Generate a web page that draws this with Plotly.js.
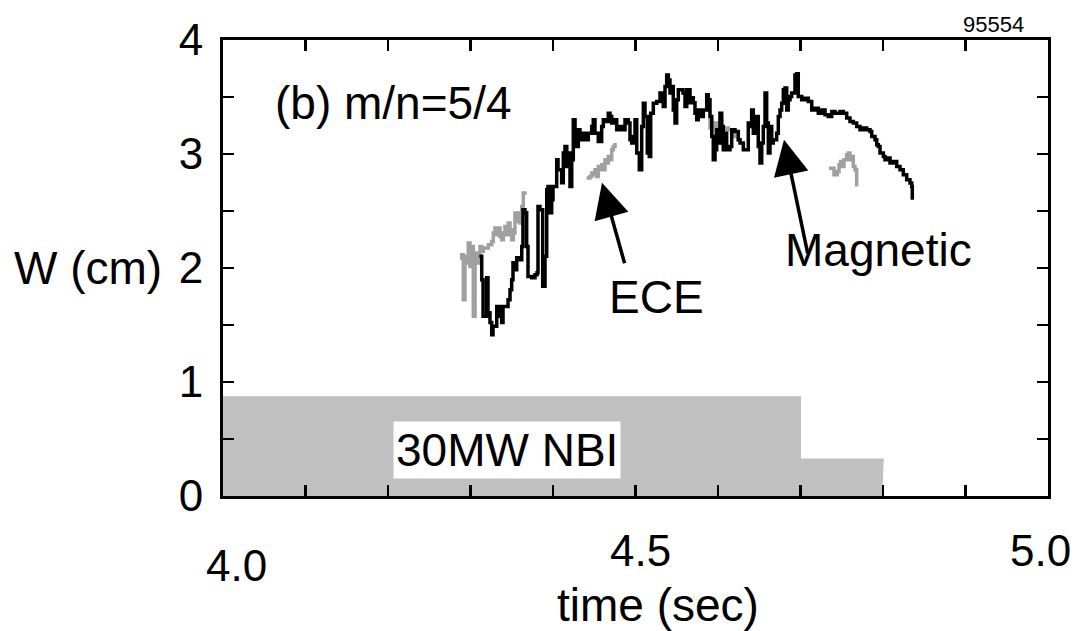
<!DOCTYPE html>
<html>
<head>
<meta charset="utf-8">
<script src="https://cdn.plot.ly/plotly-3.0.1.min.js"></script>
<style>html,body{margin:0;padding:0;background:#fff;}#chart{width:1088px;height:631px;}</style>
</head>
<body>
<div id="chart"></div>
<script>
// Magnetic (black) island width, cm
const magTime = [4.3107,4.3136,4.3152,4.3196,4.3212,4.3236,4.3257,4.3273,4.3318,4.3333,4.3358,4.3378,4.3394,4.3455,4.3479,4.3499,4.3515,4.3539,4.3560,4.3600,4.3621,4.3636,4.3661,4.3681,4.3697,4.3742,4.3782,4.3806,4.3818,4.3842,4.3875,4.3903,4.3924,4.3939,4.3964,4.3984,4.4000,4.4045,4.4061,4.4105,4.4125,4.4145,4.4167,4.4185,4.4206,4.4227,4.4246,4.4267,4.4288,4.4307,4.4327,4.4348,4.4388,4.4428,4.4469,4.4488,4.4509,4.4549,4.4590,4.4610,4.4630,4.4670,4.4691,4.4712,4.4731,4.4772,4.4812,4.4833,4.4873,4.4913,4.4933,4.4954,4.4973,4.4994,4.5015,4.5046,4.5075,4.5095,4.5115,4.5143,4.5167,4.5184,4.5216,4.5257,4.5297,4.5337,4.5358,4.5378,4.5398,4.5418,4.5439,4.5458,4.5479,4.5499,4.5519,4.5539,4.5576,4.5600,4.5621,4.5661,4.5681,4.5701,4.5721,4.5742,4.5761,4.5782,4.5822,4.5863,4.5882,4.5903,4.5924,4.5943,4.5964,4.5984,4.6004,4.6024,4.6045,4.6064,4.6085,4.6105,4.6145,4.6166,4.6206,4.6246,4.6267,4.6307,4.6348,4.6367,4.6388,4.6408,4.6428,4.6448,4.6469,4.6488,4.6509,4.6530,4.6549,4.6570,4.6590,4.6610,4.6630,4.6651,4.6670,4.6711,4.6731,4.6752,4.6772,4.6792,4.6812,4.6833,4.6852,4.6873,4.6893,4.6933,4.6954,4.6973,4.7015,4.7055,4.7095,4.7136,4.7176,4.7216,4.7257,4.7297,4.7337,4.7378,4.7418,4.7479,4.7519,4.7560,4.7600,4.7640,4.7681,4.7721,4.7761,4.7802,4.7842,4.7863,4.7903,4.7924,4.7943,4.7964,4.8004,4.8024,4.8064,4.8085,4.8125,4.8166,4.8206,4.8246,4.8287,4.8327,4.8348,4.8355];
const magWidth = [2.102,1.897,1.576,1.915,1.608,1.521,1.415,1.488,1.663,1.576,1.663,1.521,1.663,1.722,1.810,1.897,2.046,1.985,2.090,2.073,2.189,2.511,2.485,2.189,1.926,1.915,1.941,1.959,2.540,2.511,1.839,2.102,2.686,2.715,2.485,2.599,2.715,2.949,2.862,2.748,3.008,3.066,2.890,3.008,2.715,2.949,3.300,3.183,3.066,3.212,3.124,3.183,3.124,3.183,3.241,3.300,3.183,3.110,3.241,3.300,3.285,3.358,3.329,3.271,3.300,3.212,3.241,3.212,3.300,3.271,3.124,3.096,3.153,3.300,3.008,2.862,3.241,3.446,3.329,3.008,2.978,3.358,3.446,3.460,3.534,3.416,3.592,3.694,3.650,3.534,3.592,3.387,3.271,3.475,3.563,3.563,3.536,3.416,3.563,3.449,3.493,3.449,3.358,3.300,3.387,3.329,3.387,3.519,3.475,3.329,3.153,2.949,3.037,3.212,3.096,3.358,3.241,3.037,3.183,3.037,3.066,3.212,3.197,3.124,3.096,3.037,3.037,3.271,3.241,3.387,3.183,3.271,3.329,3.066,2.920,3.096,3.241,3.534,3.271,3.008,3.241,3.096,3.124,3.183,3.329,3.387,3.446,3.563,3.578,3.387,3.475,3.504,3.534,3.694,3.703,3.504,3.475,3.490,3.460,3.387,3.402,3.358,3.387,3.344,3.329,3.372,3.358,3.372,3.358,3.315,3.285,3.271,3.241,3.212,3.227,3.212,3.197,3.153,3.124,3.081,3.066,3.008,2.978,2.949,2.964,2.920,2.934,2.890,2.862,2.818,2.774,2.745,2.715,2.599];

// ECE (grey) island width, cm (null = gap in the measurement)
const eceTime = [4.2873,4.2893,4.2913,4.2933,4.2954,4.2973,4.2994,4.3015,4.3034,4.3055,4.3075,4.3095,4.3115,4.3136,4.3155,4.3196,4.3216,4.3257,4.3276,4.3297,4.3318,4.3337,4.3358,4.3378,4.3398,4.3418,4.3439,4.3458,4.3479,4.3499,4.3519,4.3539,4.3560,4.3579,4.3600,4.3621,4.3640,4.3661,null,
  4.4408,4.4448,4.4469,4.4488,4.4509,4.4529,4.4549,4.4570,4.4590,4.4610,4.4630,4.4651,4.4670,4.4691,4.4712,4.4731,4.4752,null,
  4.5882,4.5903,4.5924,4.5943,4.5964,4.5984,4.6004,4.6024,4.6045,4.6064,4.6085,4.6125,4.6166,4.6185,4.6206,4.6227,4.6246,4.6267,null,
  4.7345,4.7385,4.7406,4.7446,4.7467,4.7487,4.7507,4.7527,4.7560,4.7580,4.7600,4.7621,4.7640,4.7661,4.7681];
const eceWidth = [2.088,2.117,1.722,2.102,2.044,2.219,2.014,2.189,1.576,2.044,2.131,2.044,2.189,2.146,2.175,2.175,2.204,2.233,2.307,2.351,2.292,2.351,2.277,2.248,2.307,2.365,2.292,2.394,2.336,2.248,2.307,2.482,2.408,2.482,2.394,2.540,2.657,2.642,null,
  2.789,2.803,2.833,2.818,2.862,2.803,2.890,2.862,2.905,2.862,2.949,2.920,2.978,2.949,3.037,3.066,3.096,null,
  3.227,3.300,3.241,3.271,3.183,3.271,3.241,3.300,3.096,3.153,3.227,3.212,3.212,3.153,3.183,3.153,3.124,3.110,null,
  2.876,2.876,2.818,2.847,2.905,2.934,2.890,2.949,2.993,3.008,2.949,2.978,2.890,2.862,2.715];

// NBI power waveform (scaled to the W axis)
const nbiTime = [4.0, 4.7006, 4.7006, 4.801, 4.799];
const nbiLevel = [0.875, 0.875, 0.329, 0.329, 0];

// Axis ticks
const xTickVals = [4.0,4.1,4.2,4.3,4.4,4.5,4.6,4.7,4.8,4.9,5.0];
const xTickText = ['4.0','','','','','4.5','','','','','5.0'];
const yTickVals = [0,0.5,1,1.5,2,2.5,3,3.5,4];
const yTickText = ['0','','1','','2','','3','','4'];

const FONT = 'Liberation Sans, Arial, Helvetica, sans-serif';

const traces = [
  {x: nbiTime, y: nbiLevel, type: 'scatter', mode: 'lines', fill: 'tozeroy',
   fillcolor: '#c0c0c0', line: {width: 0, color: '#c0c0c0'}, hoverinfo: 'skip', showlegend: false},
  {x: eceTime, y: eceWidth, type: 'scatter', mode: 'lines', connectgaps: false,
   line: {color: '#a0a0a0', width: 3.5, shape: 'hv'}, name: 'ECE', showlegend: false},
  {x: magTime, y: magWidth, type: 'scatter', mode: 'lines',
   line: {color: '#000000', width: 3.5, shape: 'hv'}, name: 'Magnetic', showlegend: false}
];

const annotations = [
  {text: '(b) m/n=5/4', x: 4.0606, y: 3.449, xref: 'x', yref: 'y', xanchor: 'left', yanchor: 'middle', showarrow: false, font: {size: 46, family: FONT}},
  {text: 'ECE', x: 4.526, y: 1.748, xref: 'x', yref: 'y', xanchor: 'center', yanchor: 'middle', showarrow: false, font: {size: 46, family: FONT}},
  {text: 'Magnetic', x: 4.794, y: 2.16, xref: 'x', yref: 'y', xanchor: 'center', yanchor: 'middle', showarrow: false, font: {size: 46, family: FONT}},
  {text: '30MW NBI', x: 4.344, y: 0.40, xref: 'x', yref: 'y', xanchor: 'center', yanchor: 'middle', showarrow: false, bgcolor: '#ffffff', borderpad: 2, font: {size: 46, family: FONT}},
  {text: '', x: 4.4594, y: 2.748, xref: 'x', yref: 'y', showarrow: true, ax: 23, ay: 82, arrowhead: 2, arrowsize: 2.0, arrowwidth: 3.5, arrowcolor: '#000'},
  {text: '', x: 4.680, y: 3.124, xref: 'x', yref: 'y', showarrow: true, ax: 24, ay: 115, arrowhead: 2, arrowsize: 2.0, arrowwidth: 3.5, arrowcolor: '#000'}
];

// pixel-placed page texts (converted to paper fractions below)
const plotL = 223, plotT = 40, plotW = 1088 - 223 - 40, plotH = 631 - 40 - 134.5;
function px(text, x, y, size, xanchor) {
  return {text: text, xref: 'paper', yref: 'paper', x: (x - plotL) / plotW, y: (plotT + plotH - y) / plotH,
          xanchor: xanchor || 'center', yanchor: 'middle', showarrow: false, font: {size: size, family: FONT}};
}
annotations.push(px('95554', 1026, 24, 22, 'right'));
annotations.push(px('W (cm)', 12, 268, 46, 'left'));
annotations.push(px('time (sec)', 658, 606, 46));

// x tick labels drawn from the tick arrays, staggered as in the original figure
const xLabelShift = {'4.0': [13, 566], '4.5': [5, 551], '5.0': [-8, 551]};
xTickVals.forEach((v, i) => {
  const t = xTickText[i];
  if (!t) return;
  const s = xLabelShift[t];
  const a = px(t, 0, s[1], 44);
  a.xref = 'x'; a.x = v; a.xshift = s[0];
  annotations.push(a);
});

const layout = {
  width: 1088, height: 631,
  margin: {l: 223, r: 40, t: 40, b: 134.5},
  paper_bgcolor: '#ffffff', plot_bgcolor: '#ffffff',
  font: {family: FONT, color: '#000', size: 44},
  showlegend: false,
  xaxis: {
    range: [4, 5], tickmode: 'array', tickvals: xTickVals, ticktext: xTickText,
    showticklabels: false,
    ticks: 'inside', ticklen: 11, tickwidth: 2.5, tickcolor: '#000',
    showline: true, linecolor: '#000', linewidth: 3, mirror: 'allticks',
    showgrid: false, zeroline: false
  },
  yaxis: {
    range: [0, 4], tickmode: 'array', tickvals: yTickVals, ticktext: yTickText,
    ticks: 'inside', ticklen: 11, tickwidth: 2.5, tickcolor: '#000',
    showline: true, linecolor: '#000', linewidth: 3, mirror: 'allticks',
    showgrid: false, zeroline: false, tickfont: {size: 44, family: FONT},
    ticklabelstandoff: 8
  },
  annotations: annotations
};

Plotly.newPlot('chart', traces, layout, {displayModeBar: false, staticPlot: true});
</script>
</body>
</html>
